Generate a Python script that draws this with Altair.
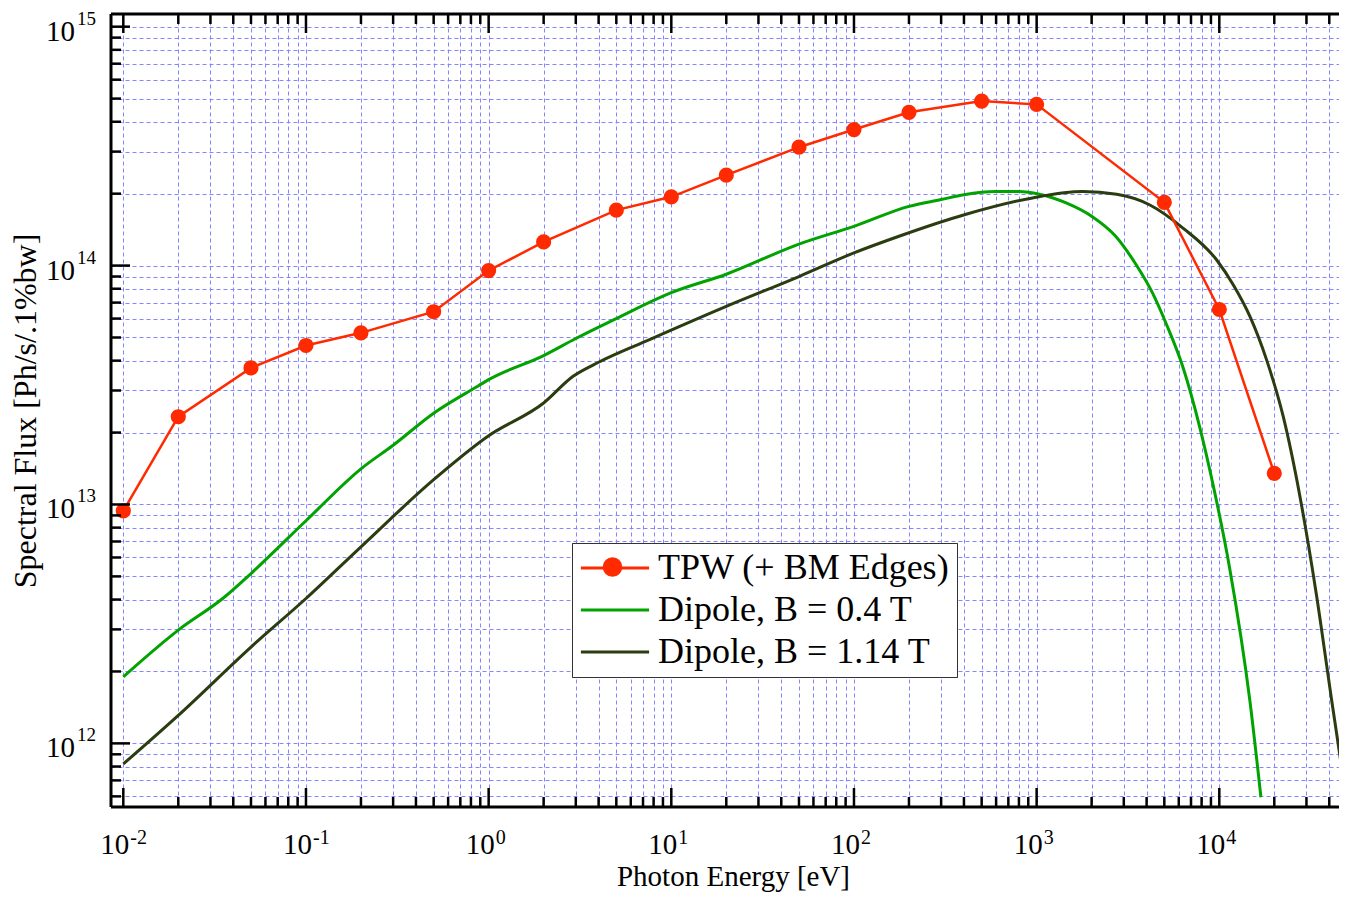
import altair as alt
import pandas as pd

# ---------------- data ----------------
S_TPW = "TPW (+ BM Edges)"
S_04 = "Dipole, B = 0.4 T"
S_114 = "Dipole, B = 1.14 T"

tpw_x = [0.01, 0.02, 0.05, 0.1, 0.2, 0.5, 1, 2, 5, 10, 20, 50, 100, 200, 500, 1000, 5000, 10000, 20000]
tpw_y = [9.4e12, 2.33e13, 3.73e13, 4.63e13, 5.23e13, 6.41e13, 9.53e13, 1.256e14, 1.706e14, 1.94e14,
         2.39e14, 3.13e14, 3.71e14, 4.38e14, 4.88e14, 4.73e14, 1.84e14, 6.55e13, 1.35e13]

d04_x = [0.01, 0.02, 0.035, 0.05, 0.1, 0.2, 0.3, 0.5, 0.88, 1, 2, 3, 5, 10, 20, 50, 100, 200, 300,
         400, 600, 800, 1035, 1450, 2000, 2700, 3500, 4300, 5100, 6300, 7800, 9200, 11400, 14700, 16900]
d04_y = [1.90e12, 2.98e12, 4.04e12, 5.14e12, 8.55e12, 1.41e13, 1.77e13, 2.41e13, 3.14e13, 3.33e13,
         4.2e13, 4.95e13, 6.0e13, 7.7e13, 9.2e13, 1.23e14, 1.46e14, 1.77e14, 1.89e14, 1.98e14,
         2.04e14, 2.04e14, 1.99e14, 1.83e14, 1.61e14, 1.33e14, 1.01e14, 7.7e13, 5.75e13, 3.79e13,
         2.12e13, 1.23e13, 5.4e12, 1.51e12, 5.95e11]

d114_x = [0.01, 0.02, 0.05, 0.1, 0.2, 0.5, 1, 2, 2.9, 4, 7.6, 20, 50, 100, 178, 411, 950, 1786, 2742,
          4169, 6350, 9680, 11940, 14730, 18170, 22400, 27650, 34000, 41200, 49400]
d114_y = [8.2e11, 1.31e12, 2.53e12, 4.04e12, 6.65e12, 1.27e13, 1.94e13, 2.66e13, 3.44e13, 3.94e13,
          4.9e13, 6.75e13, 9.0e13, 1.13e14, 1.33e14, 1.64e14, 1.92e14, 2.04e14, 1.987e14, 1.793e14,
          1.432e14, 1.055e14, 8.29e13, 6.11e13, 4.02e13, 2.33e13, 1.078e13, 4.2e12, 1.52e12, 5.98e11]

x_major = [0.01, 0.1, 1, 10, 100, 1000, 10000]
x_exp = ["-2", "-1", "0", "1", "2", "3", "4"]
y_major = [1e12, 1e13, 1e14, 1e15]
y_exp = ["12", "13", "14", "15"]

XMIN, XMAX = 0.008563, 58180
YMIN, YMAX = 5.416e11, 1.130e15

x_minor = [m * 10.0 ** k for k in range(-2, 5) for m in range(2, 10) if m * 10.0 ** k <= XMAX]
y_minor = [m * 10.0 ** k for k in range(11, 15) for m in range(2, 10) if YMIN <= m * 10.0 ** k <= YMAX]

# ---------------- styling ----------------
FONT = "Liberation Serif"
RED = "#ff2a00"
GREEN = "#00a300"
DARK = "#2a3c10"
GRID = "#8585ff"
W, H = 1228, 793      # visible plot width (page edge); frame extends a little beyond
WR = 1248             # full x-range of the frame (right part falls off the page, as in the reference)

series_order = [S_TPW, S_04, S_114]
color_scale = alt.Scale(domain=series_order, range=[RED, GREEN, DARK])

lines_df = pd.concat([
    pd.DataFrame({"E": d04_x, "F": d04_y, "series": S_04}),
    pd.DataFrame({"E": d114_x, "F": d114_y, "series": S_114}),
])
tpw_df = pd.DataFrame({"E": tpw_x, "F": tpw_y, "series": S_TPW})

xs = alt.Scale(type="log", domain=[XMIN, XMAX], nice=False, range=[0, WR])
ys = alt.Scale(type="log", domain=[YMIN, YMAX], nice=False)

x_axis = alt.Axis(values=x_major + x_minor, grid=True, gridColor=GRID, gridDash=[4, 3], gridWidth=1,
                  ticks=False, labels=False, domain=False, title="Photon Energy [eV]",
                  titleFont=FONT, titleFontSize=29, titleFontWeight="normal", titleColor="black",
                  titlePadding=55, titleX=622)
y_axis = alt.Axis(values=y_major + y_minor, grid=True, gridColor=GRID, gridDash=[4, 3], gridWidth=1,
                  ticks=False, labels=False, domain=False, title="Spectral Flux [Ph/s/.1%bw]",
                  titleFont=FONT, titleFontSize=32, titleFontWeight="normal", titleColor="black",
                  titlePadding=69)

def X():
    return alt.X("E:Q", scale=xs, axis=x_axis)

def Y():
    return alt.Y("F:Q", scale=ys, axis=y_axis)

LINE_PATH = "M-3.1,0L3.1,0"

line_legend = alt.Legend(
    title=None, orient="none", legendX=461, legendY=529,
    symbolType=LINE_PATH, symbolSize=484, symbolStrokeWidth=3, symbolOffset=18,
    labelOffset=25, labelFont=FONT, labelFontSize=36, labelColor="black", labelLimit=0,
    padding=7, rowPadding=6, strokeColor="#333333", fillColor="white", zindex=1,
)
marker_legend = alt.Legend(
    title=None, orient="none", legendX=491.5, legendY=543,
    symbolType="circle", symbolSize=380, symbolStrokeWidth=0, symbolOpacity=1,
    labelExpr="''", labelFontSize=1, labelOffset=0, padding=0, zindex=2,
)

stroke_enc = alt.Stroke("series:N", scale=color_scale, legend=line_legend)

dip = alt.Chart(lines_df).mark_line(strokeWidth=3, interpolate="monotone").encode(
    x=X(), y=Y(), stroke=stroke_enc, detail="series:N")
tpw_line = alt.Chart(tpw_df).mark_line(strokeWidth=2.5).encode(
    x=X(), y=Y(), stroke=stroke_enc)
tpw_pts = alt.Chart(tpw_df).mark_circle(size=230, opacity=1).encode(
    x=X(), y=Y(),
    fill=alt.Fill("series:N", scale=alt.Scale(domain=[S_TPW], range=[RED]), legend=marker_legend))

xmaj_df = pd.DataFrame({"E": x_major, "exp": x_exp})
xmin_df = pd.DataFrame({"E": x_minor})
ymaj_df = pd.DataFrame({"F": y_major, "exp": y_exp})
ymin_df = pd.DataFrame({"F": y_minor})

def xrule(df, y0, y1):
    return alt.Chart(df).mark_rule(color="black", strokeWidth=2.5).encode(
        x=X(), y=alt.value(y0), y2=alt.value(y1))

def yrule(df, x0, x1):
    return alt.Chart(df).mark_rule(color="black", strokeWidth=2.5).encode(
        y=Y(), x=alt.value(x0), x2=alt.value(x1))

ticks = [
    xrule(xmaj_df, H, H - 19), xrule(xmin_df, H, H - 10),
    xrule(xmaj_df, 0, 19), xrule(xmin_df, 0, 10),
    yrule(ymaj_df, 0, 19), yrule(ymin_df, 0, 10),
    yrule(ymaj_df, WR, WR - 19), yrule(ymin_df, WR, WR - 10),
]

# plot frame (left, top, bottom; the right edge lies beyond the page as in the reference)
frame_df = pd.DataFrame({"E": [XMIN]})
frame = [
    alt.Chart(frame_df).mark_rule(color="black", strokeWidth=3).encode(
        x=alt.value(0), y=alt.value(0), y2=alt.value(H)),
    alt.Chart(frame_df).mark_rule(color="black", strokeWidth=3).encode(
        x=alt.value(0), x2=alt.value(WR), y=alt.value(0)),
    alt.Chart(frame_df).mark_rule(color="black", strokeWidth=3).encode(
        x=alt.value(0), x2=alt.value(WR), y=alt.value(H)),
]

x_lab_base = alt.Chart(xmaj_df).mark_text(text="10", align="right", baseline="alphabetic", dx=6,
                                           font=FONT, fontSize=29, color="black").encode(
    x=X(), y=alt.value(H + 47))
x_lab_exp = alt.Chart(xmaj_df).mark_text(align="left", baseline="alphabetic", dx=7,
                                          font=FONT, fontSize=20, color="black").encode(
    x=X(), y=alt.value(H + 37), text="exp:N")
y_lab_base = alt.Chart(ymaj_df).mark_text(text="10", align="right", baseline="alphabetic", dy=14,
                                           font=FONT, fontSize=29, color="black").encode(
    y=Y(), x=alt.value(-36))
y_lab_exp = alt.Chart(ymaj_df).mark_text(align="left", baseline="alphabetic", dy=-2,
                                          font=FONT, fontSize=19, color="black").encode(
    y=Y(), x=alt.value(-34), text="exp:N")

chart = alt.layer(dip, tpw_line, tpw_pts, *ticks, *frame,
                  x_lab_base, x_lab_exp, y_lab_base, y_lab_exp).properties(
    width=W, height=H,
    padding={"left": 103, "top": 6, "right": 0, "bottom": 85},
    autosize=alt.AutoSizeParams(type="none"),
    background="white",
).resolve_legend(stroke="independent", fill="independent").configure_view(stroke=None)

chart.save("out.html", embed_options={"renderer": "svg", "actions": False})
